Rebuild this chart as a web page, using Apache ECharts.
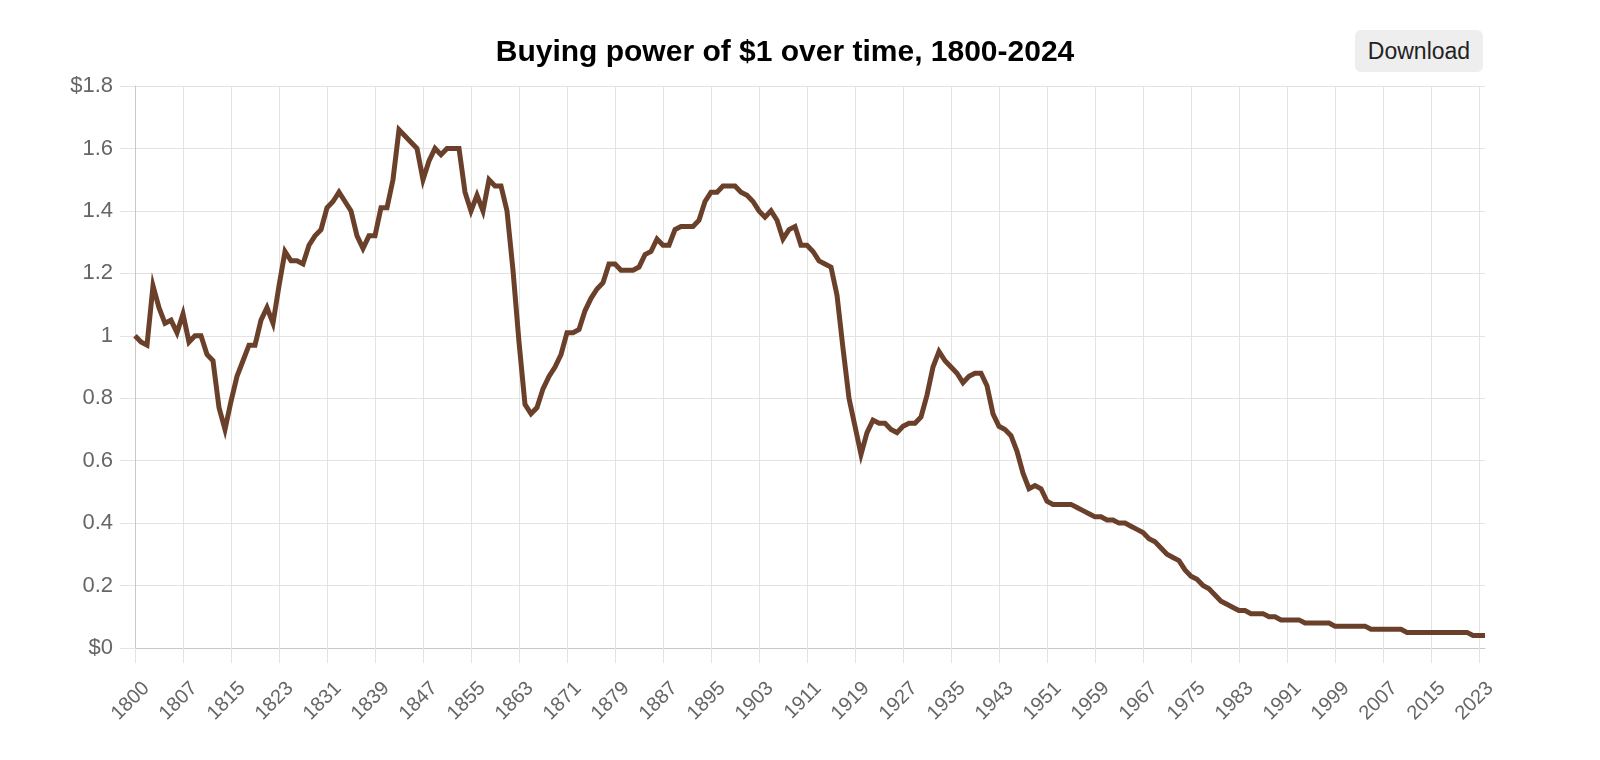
<!DOCTYPE html>
<html>
<head>
<meta charset="utf-8">
<script src="https://cdn.jsdelivr.net/npm/echarts@6/dist/echarts.min.js"></script>
<style>
  html, body { margin: 0; padding: 0; background: #fff; }
  #chart { width: 1600px; height: 760px; }
  #dl {
    position: absolute; left: 1355px; top: 30px; width: 128px; height: 42px;
    background: #eeeeee; border: none; border-radius: 6px;
    font-family: "Liberation Sans", Arial, sans-serif; font-size: 23px; color: #222;
    padding: 0; cursor: pointer;
  }
</style>
</head>
<body>
<div id="chart"></div>
<button id="dl">Download</button>
<script>
// Category labels (the source series lists 1800 twice, so ticks every 8 points read 1800, 1807, 1815, ...)
const years = [
  '1800','1800','1801','1802','1803','1804','1805','1806','1807','1808',
  '1809','1810','1811','1812','1813','1814','1815','1816','1817','1818',
  '1819','1820','1821','1822','1823','1824','1825','1826','1827','1828',
  '1829','1830','1831','1832','1833','1834','1835','1836','1837','1838',
  '1839','1840','1841','1842','1843','1844','1845','1846','1847','1848',
  '1849','1850','1851','1852','1853','1854','1855','1856','1857','1858',
  '1859','1860','1861','1862','1863','1864','1865','1866','1867','1868',
  '1869','1870','1871','1872','1873','1874','1875','1876','1877','1878',
  '1879','1880','1881','1882','1883','1884','1885','1886','1887','1888',
  '1889','1890','1891','1892','1893','1894','1895','1896','1897','1898',
  '1899','1900','1901','1902','1903','1904','1905','1906','1907','1908',
  '1909','1910','1911','1912','1913','1914','1915','1916','1917','1918',
  '1919','1920','1921','1922','1923','1924','1925','1926','1927','1928',
  '1929','1930','1931','1932','1933','1934','1935','1936','1937','1938',
  '1939','1940','1941','1942','1943','1944','1945','1946','1947','1948',
  '1949','1950','1951','1952','1953','1954','1955','1956','1957','1958',
  '1959','1960','1961','1962','1963','1964','1965','1966','1967','1968',
  '1969','1970','1971','1972','1973','1974','1975','1976','1977','1978',
  '1979','1980','1981','1982','1983','1984','1985','1986','1987','1988',
  '1989','1990','1991','1992','1993','1994','1995','1996','1997','1998',
  '1999','2000','2001','2002','2003','2004','2005','2006','2007','2008',
  '2009','2010','2011','2012','2013','2014','2015','2016','2017','2018',
  '2019','2020','2021','2022','2023','2024'
];

// Buying power of $1
const buyingPower = [
  1.00,0.98,0.97,1.16,1.09,1.04,1.05,1.01,1.07,0.98,
  1.00,1.00,0.94,0.92,0.77,0.70,0.79,0.87,0.92,0.97,
  0.97,1.05,1.09,1.04,1.16,1.27,1.24,1.24,1.23,1.29,
  1.32,1.34,1.41,1.43,1.46,1.43,1.40,1.32,1.28,1.32,
  1.32,1.41,1.41,1.50,1.66,1.64,1.62,1.60,1.50,1.56,
  1.60,1.58,1.60,1.60,1.60,1.46,1.40,1.45,1.40,1.50,
  1.48,1.48,1.40,1.21,0.98,0.78,0.75,0.77,0.83,0.87,
  0.90,0.94,1.01,1.01,1.02,1.08,1.12,1.15,1.17,1.23,
  1.23,1.21,1.21,1.21,1.22,1.26,1.27,1.31,1.29,1.29,
  1.34,1.35,1.35,1.35,1.37,1.43,1.46,1.46,1.48,1.48,
  1.48,1.46,1.45,1.43,1.40,1.38,1.40,1.37,1.31,1.34,
  1.35,1.29,1.29,1.27,1.24,1.23,1.22,1.13,0.96,0.80,
  0.71,0.62,0.69,0.73,0.72,0.72,0.70,0.69,0.71,0.72,
  0.72,0.74,0.81,0.90,0.95,0.92,0.90,0.88,0.85,0.87,
  0.88,0.88,0.84,0.75,0.71,0.70,0.68,0.63,0.56,0.51,
  0.52,0.51,0.47,0.46,0.46,0.46,0.46,0.45,0.44,0.43,
  0.42,0.42,0.41,0.41,0.40,0.40,0.39,0.38,0.37,0.35,
  0.34,0.32,0.30,0.29,0.28,0.25,0.23,0.22,0.20,0.19,
  0.17,0.15,0.14,0.13,0.12,0.12,0.11,0.11,0.11,0.10,
  0.10,0.09,0.09,0.09,0.09,0.08,0.08,0.08,0.08,0.08,
  0.07,0.07,0.07,0.07,0.07,0.07,0.06,0.06,0.06,0.06,
  0.06,0.06,0.05,0.05,0.05,0.05,0.05,0.05,0.05,0.05,
  0.05,0.05,0.05,0.04,0.04,0.04
];

// Y tick labels
const yTickLabels = ['$0','0.2','0.4','0.6','0.8','1','1.2','1.4','1.6','$1.8'];

const titleText = 'Buying power of $1 over time, 1800-2024';

const FONT = '"Liberation Sans", Arial, Helvetica, sans-serif';
const showEvery8 = (idx) => idx % 8 === 0;

const chart = echarts.init(document.getElementById('chart'), null, { renderer: 'canvas' });
chart.setOption({
  animation: false,
  backgroundColor: '#ffffff',
  title: {
    text: titleText,
    left: 785,
    top: 38,
    textAlign: 'center',
    padding: 0,
    textStyle: { fontFamily: FONT, fontSize: 30, fontWeight: 'bold', color: '#000' }
  },
  grid: { left: 135, right: 115, top: 86, bottom: 112, outerBoundsMode: 'none', containLabel: false },
  xAxis: {
    type: 'category',
    data: years,
    boundaryGap: false,
    axisLine: { show: true, lineStyle: { color: '#c8c8c8', width: 1 } },
    axisTick: { show: true, interval: showEvery8, length: 15, lineStyle: { color: '#e3e3e3' } },
    splitLine: { show: true, interval: showEvery8, lineStyle: { color: '#e3e3e3', width: 1 } },
    axisLabel: {
      interval: showEvery8, rotate: 45, margin: 26, verticalAlign: 'top',
      padding: [6, 0, 0, 0],
      fontFamily: FONT, fontSize: 20, color: '#666'
    }
  },
  yAxis: {
    type: 'value',
    min: 0, max: 1.8, interval: 0.2,
    axisLine: { show: true, lineStyle: { color: '#c8c8c8', width: 1 } },
    axisTick: { show: true, length: 15, lineStyle: { color: '#e3e3e3' } },
    splitLine: { show: true, lineStyle: { color: '#e3e3e3', width: 1 } },
    axisLabel: {
      margin: 22, fontFamily: FONT, fontSize: 22, color: '#666',
      formatter: (v) => yTickLabels[Math.round(v / 0.2)]
    }
  },
  series: [{
    name: 'Buying power',
    type: 'line',
    data: buyingPower,
    showSymbol: false,
    smooth: false,
    lineStyle: { color: '#6b402a', width: 5, join: 'miter' },
    itemStyle: { color: '#6b402a' }
  }]
});
</script>
</body>
</html>
